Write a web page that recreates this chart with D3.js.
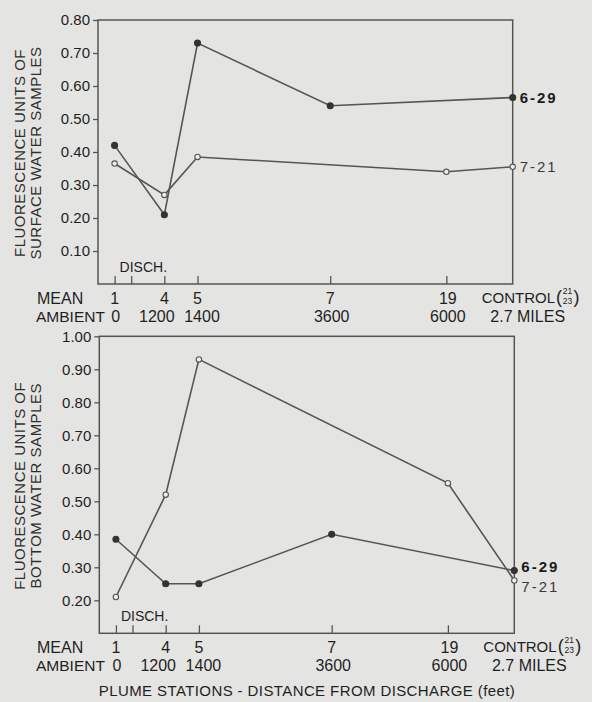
<!DOCTYPE html>
<html>
<head>
<meta charset="utf-8">
<script src="https://cdn.jsdelivr.net/npm/d3@7"></script>
<style>
  body { margin: 0; background: #e4e4e2; }
  svg { display: block; font-family: "Liberation Sans", Arial, sans-serif; }
</style>
</head>
<body>
<div id="chart-area"></div>
<script>
// stations along the plume, as spaced on the original graph sheet
const stationLabels = ['1', '', '4', '5', '7', '19', 'CONTROL'];
const distanceLabels = ['0', '', '1200', '1400', '3600', '6000', '2.7 MILES'];
const stationSlot = [0, 1, 3, 5, 13, 20, 24];

// fluorescence units, null = not sampled
const surface629 = [0.42, null, 0.21, 0.73, 0.54, null, 0.565];
const surface721 = [0.365, null, 0.27, 0.385, null, 0.34, 0.355];
const bottom629 = [0.385, null, 0.25, 0.25, 0.40, null, 0.29];
const bottom721 = [0.21, null, 0.52, 0.93, null, 0.555, 0.26];

const surfaceTicks = [0.1, 0.2, 0.3, 0.4, 0.5, 0.6, 0.7, 0.8];
const bottomTicks = [0.2, 0.3, 0.4, 0.5, 0.6, 0.7, 0.8, 0.9, 1.0];

const width = 592, height = 702;
const ink = '#1f1f1f', lineCol = '#555';

let svg = d3.select('#chart-area')
  .append('svg')
  .attr('width', width)
  .attr('height', height)

svg.append('rect')
  .attr('width', width).attr('height', height)
  .attr('fill', '#e4e4e2')

const panels = [
  { title: ['FLUORESCENCE UNITS OF', 'SURFACE WATER SAMPLES'],
    s629: surface629, s721: surface721, domain: [0, 0.8], ticks: surfaceTicks,
    left: 98, right: 512.7, top: 20, bottom: 284, nudge: [0, 0] },
  { title: ['FLUORESCENCE UNITS OF', 'BOTTOM WATER SAMPLES'],
    s629: bottom629, s721: bottom721, domain: [0.1, 1.0], ticks: bottomTicks,
    left: 99.3, right: 514.3, top: 336.3, bottom: 633.3, nudge: [-4, 6] }
];

const fmt = d3.format('.2f');

panels.forEach(p => {
  let x = d3.scaleLinear().domain([-1, 24]).range([p.left, p.right]);
  let y = d3.scaleLinear().domain(p.domain).range([p.bottom, p.top]);
  let g = svg.append('g');

  // frame
  g.append('rect')
    .attr('x', p.left).attr('y', p.top)
    .attr('width', p.right - p.left).attr('height', p.bottom - p.top)
    .attr('fill', 'none').attr('stroke', lineCol).attr('stroke-width', 1.5)

  // y axis
  let yAxis = g.append('g')
    .attr('transform', `translate(${p.left},0)`)
    .call(d3.axisLeft(y).tickValues(p.ticks).tickFormat(fmt).tickSize(5).tickPadding(3))
  yAxis.select('.domain').remove()
  yAxis.selectAll('line').attr('stroke', lineCol).attr('stroke-width', 1.3)
  yAxis.selectAll('text')
    .attr('fill', ink).style('font-size', '15px').style('font-family', '"Liberation Sans", Arial, sans-serif')

  // x ticks point inward
  let xAxis = g.append('g')
    .attr('transform', `translate(0,${p.bottom})`)
    .call(d3.axisTop(x).tickValues(stationSlot.slice(0, 6)).tickFormat('').tickSize(8))
  xAxis.select('.domain').remove()
  xAxis.selectAll('line').attr('stroke', lineCol).attr('stroke-width', 1.3)

  // station row and distance row
  const row1 = p.bottom + 19.5, row2 = p.bottom + 38;
  const distShift = [1, 0, -7.5, 4.5, 1.5, 1.5, 0];
  g.append('text').attr('x', 37).attr('y', row1).text('MEAN')
    .attr('fill', ink).style('font-size', '16px')
  g.append('text').attr('x', 36).attr('y', row2).text('AMBIENT')
    .attr('fill', ink).style('font-size', '15.5px')

  g.selectAll('.st').data(stationLabels.slice(0, 6)).join('text')
    .attr('x', (d, i) => x(stationSlot[i]) + (i === 5 ? 1.5 : 0))
    .attr('y', row1)
    .attr('text-anchor', 'middle')
    .attr('fill', ink).style('font-size', '16px')
    .text(d => d)

  g.selectAll('.dist').data(distanceLabels.slice(0, 6)).join('text')
    .attr('x', (d, i) => x(stationSlot[i]) + distShift[i])
    .attr('y', row2)
    .attr('text-anchor', 'middle')
    .attr('fill', ink).style('font-size', '16px')
    .text(d => d)

  // control station label with the (21/23) fraction
  let cx = x(24) - 31;
  let ctl = g.append('text').attr('x', cx).attr('y', row1 - 1)
    .attr('fill', ink).style('font-size', '15px').text(stationLabels[6])
  let cw = ctl.node().getComputedTextLength();
  g.append('text').attr('x', cx + cw + 1).attr('y', row1 - 0.5)
    .attr('fill', ink).style('font-size', '18px').text('(')
  g.append('text').attr('x', cx + cw + 12.5).attr('y', row1 - 9.5)
    .attr('text-anchor', 'middle').attr('fill', ink).style('font-size', '8.5px').text('21')
  g.append('text').attr('x', cx + cw + 12.5).attr('y', row1 + 0.5)
    .attr('text-anchor', 'middle').attr('fill', ink).style('font-size', '8.5px').text('23')
  g.append('text').attr('x', cx + cw + 18.5).attr('y', row1 - 0.5)
    .attr('fill', ink).style('font-size', '18px').text(')')
  g.append('text').attr('x', x(24) + 15).attr('y', row2)
    .attr('text-anchor', 'middle').attr('fill', ink).style('font-size', '16px')
    .text(distanceLabels[6])

  g.append('text').attr('x', x(0) + 5).attr('y', p.bottom - 12)
    .attr('fill', ink).style('font-size', '14px').text('DISCH.')

  // y title, two rotated lines
  const cy = (p.top + p.bottom) / 2 + 1;
  p.title.forEach((t, i) => {
    g.append('text')
      .attr('transform', `translate(${20 + i * 16},${cy}) rotate(-90)`)
      .attr('text-anchor', 'middle').attr('dy', '0.36em')
      .attr('fill', '#2e2e2e').style('font-size', '15px').style('letter-spacing', '0.5px')
      .text(t)
  })

  // series
  const line = d3.line().x(d => x(d.slot)).y(d => y(d.v));
  const series = [
    { key: '6-29', vals: p.s629, filled: true, nudge: p.nudge[0] },
    { key: '7-21', vals: p.s721, filled: false, nudge: p.nudge[1] }
  ];
  series.forEach(s => {
    let pts = s.vals.map((v, i) => ({ v: v, slot: stationSlot[i] })).filter(d => d.v != null);
    g.append('path').datum(pts)
      .attr('d', line)
      .attr('fill', 'none').attr('stroke', lineCol).attr('stroke-width', 1.6)
    g.selectAll(null).data(pts).join('circle')
      .attr('cx', d => x(d.slot)).attr('cy', d => y(d.v))
      .attr('r', s.filled ? 3 : 2.7)
      .attr('fill', s.filled ? '#333' : '#eeeeec')
      .attr('stroke', s.filled ? '#333' : '#555').attr('stroke-width', 1.1)
    let last = pts[pts.length - 1];
    g.append('text')
      .attr('x', x(last.slot) + 7).attr('y', y(last.v) + s.nudge + 5.3)
      .attr('fill', s.filled ? '#1a1a1a' : '#3a3a3a')
      .style('font-size', '15px').style('letter-spacing', '2px')
      .style('font-weight', s.filled ? 'bold' : 'normal')
      .text(s.key)
  })
});

svg.append('text')
  .attr('x', 307).attr('y', 696)
  .attr('text-anchor', 'middle')
  .attr('fill', ink).style('font-size', '15px').style('letter-spacing', '0.4px')
  .text('PLUME STATIONS - DISTANCE FROM DISCHARGE (feet)')
</script>
</body>
</html>
